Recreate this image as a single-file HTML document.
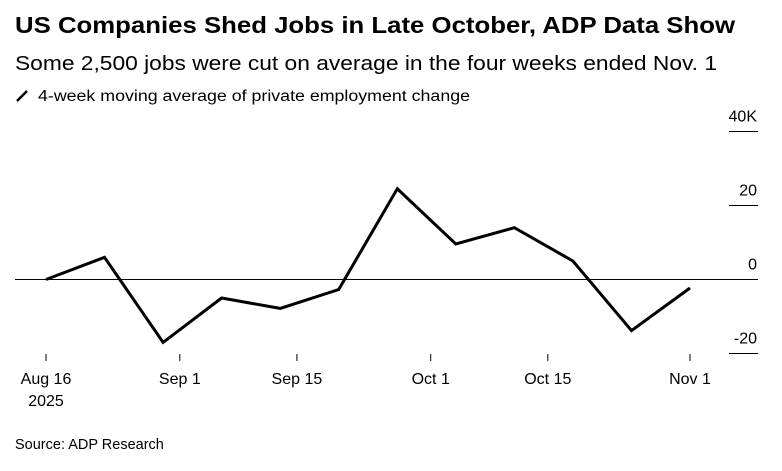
<!DOCTYPE html>
<html><head><meta charset="utf-8"><style>
body{margin:0;background:#fff;}
svg{display:block;font-family:"Liberation Sans",sans-serif;}
</style></head><body>
<svg width="782" height="471" viewBox="0 0 782 471">
<text x="15" y="33" font-size="23" font-weight="bold" fill="#000" textLength="720" lengthAdjust="spacingAndGlyphs">US Companies Shed Jobs in Late October, ADP Data Show</text>
<text x="15" y="70" font-size="20" fill="#000" textLength="702" lengthAdjust="spacingAndGlyphs">Some 2,500 jobs were cut on average in the four weeks ended Nov. 1</text>
<line x1="17" y1="101" x2="27" y2="91" stroke="#000" stroke-width="2.5"/>
<text x="38" y="101" font-size="15.5" fill="#000" textLength="432" lengthAdjust="spacingAndGlyphs">4-week moving average of private employment change</text>
<g id="yaxis"></g>
<g id="xaxis"></g>
<line x1="15" y1="279.5" x2="758" y2="279.5" stroke="#000" stroke-width="1"/>
<path id="series" fill="none" stroke="#000" stroke-width="3" stroke-linejoin="miter"/>
<text x="15" y="449" font-size="14.5" fill="#000">Source: ADP Research</text>
</svg>
<script>
const weeks = [0,7,14,21,28,35,42,49,56,63,70,77]; // days since Aug 16
const values = [0,6,-17,-5,-7.8,-2.7,24.5,9.6,14,5,-13.8,-2.3];
const yTicks = [40,20,0,-20];
const yTickLabels = ["40K","20","0","-20"];
const xTickDays = [0,16,30,46,60,77];
const xTickLabels = ["Aug 16","Sep 1","Sep 15","Oct 1","Oct 15","Nov 1"];

const NS="http://www.w3.org/2000/svg";
const xs = d => 46 + d*(690-46)/77;
const ys = v => 279.5 - v*3.7;

const yg=document.getElementById('yaxis');
yTicks.forEach((t,i)=>{
  if(t!==0){
    const l=document.createElementNS(NS,'line');
    l.setAttribute('x1',729);l.setAttribute('x2',758);
    l.setAttribute('y1',ys(t));l.setAttribute('y2',ys(t));
    l.setAttribute('stroke','#000');l.setAttribute('stroke-width','1');
    
    
    yg.appendChild(l);
  }
  const tx=document.createElementNS(NS,'text');
  tx.setAttribute('x',757);tx.setAttribute('y',ys(t)-10);
  tx.setAttribute('text-anchor','end');tx.setAttribute('font-size','16');
  tx.textContent=yTickLabels[i];
  
  
  yg.appendChild(tx);
});
const xg=document.getElementById('xaxis');
xTickDays.forEach((d,i)=>{
  const l=document.createElementNS(NS,'line');
  l.setAttribute('x1',xs(d));l.setAttribute('x2',xs(d));
  l.setAttribute('y1',354);l.setAttribute('y2',361);
  l.setAttribute('stroke','#000');l.setAttribute('stroke-width','1');
  
  
  xg.appendChild(l);
  const tx=document.createElementNS(NS,'text');
  tx.setAttribute('x',xs(d));tx.setAttribute('y',384);
  tx.setAttribute('text-anchor','middle');tx.setAttribute('font-size','16');
  tx.textContent=xTickLabels[i];
  
  
  xg.appendChild(tx);
});
const yr=document.createElementNS(NS,'text');
yr.setAttribute('x',xs(0));yr.setAttribute('y',406);
yr.setAttribute('text-anchor','middle');yr.setAttribute('font-size','16');
yr.textContent='2025';


xg.appendChild(yr);

document.getElementById('series').setAttribute('d',
  weeks.map((d,i)=>(i?'L':'M')+xs(d).toFixed(1)+' '+ys(values[i]).toFixed(1)).join(' '));
</script>
</body></html>
